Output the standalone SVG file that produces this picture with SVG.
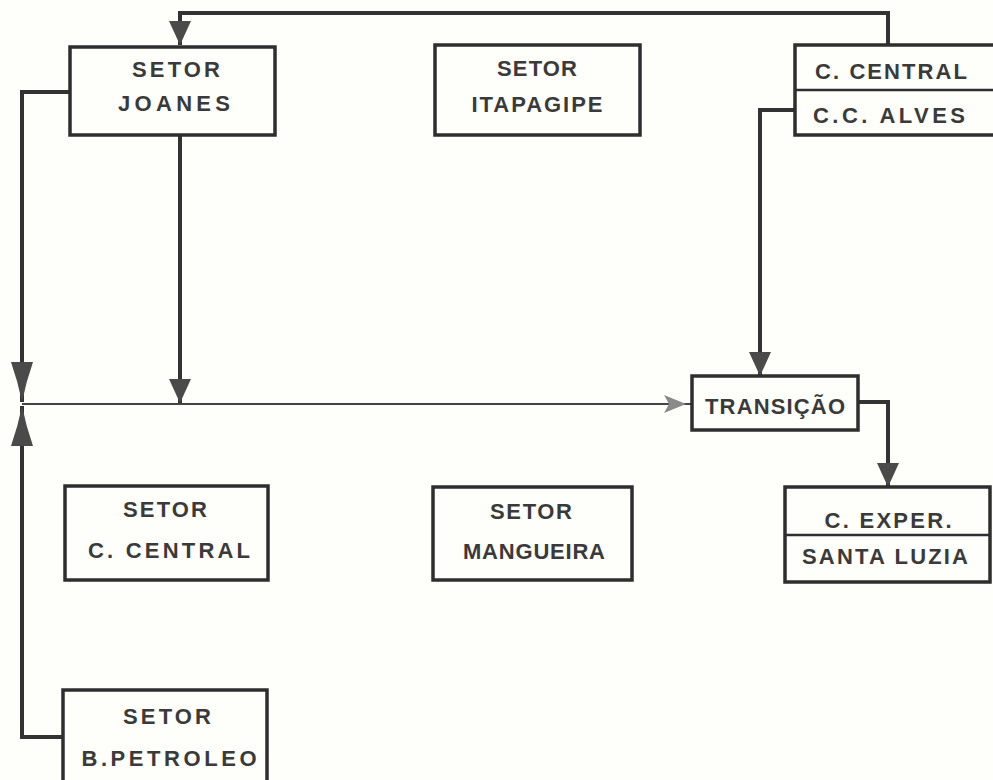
<svg xmlns="http://www.w3.org/2000/svg" width="993" height="780" viewBox="0 0 993 780">
<defs>
<style>
.box{fill:none;stroke:#2e2e2e;stroke-width:3.5}
.div{stroke:#2e2e2e;stroke-width:2.5}
.t{font-family:"Liberation Sans",Arial,sans-serif;font-weight:bold;font-size:22px;fill:#3a3a3a;text-anchor:middle}
.ln{fill:none;stroke:#333;stroke-width:4}
.thin{fill:none;stroke:#444;stroke-width:2}
</style>
<marker id="ah" markerUnits="userSpaceOnUse" markerWidth="24" markerHeight="24" viewBox="0 0 24 24" refX="24" refY="12" orient="auto">
<path d="M0,1 L24,12 L0,23 z" fill="#4a4a4a"/>
</marker>
<marker id="ahl" markerUnits="userSpaceOnUse" markerWidth="40" markerHeight="24" viewBox="0 0 40 24" refX="40" refY="12" orient="auto">
<path d="M0,1 Q20,8 40,12 Q20,16 0,23 z" fill="#4a4a4a"/>
</marker>
<marker id="ahg" markerUnits="userSpaceOnUse" markerWidth="22" markerHeight="20" viewBox="0 0 22 20" refX="22" refY="10" orient="auto">
<path d="M0,1 L22,10 L0,19 L5,10 z" fill="#8a8a8a"/>
</marker>
</defs>
<rect width="993" height="780" fill="#fefefb"/>
<g id="connectors">
<path class="ln" d="M888,45 V13 H180 V45" marker-end="url(#ah)"/>
<path class="ln" d="M70,92 H22 V402" marker-end="url(#ahl)"/>
<path class="ln" d="M63,737 H22 V406" marker-end="url(#ahl)"/>
<path class="ln" d="M180,135 V403" marker-end="url(#ah)"/>
<path class="thin" d="M22,404 H692"/>
<path class="thin" d="M640,404 H686" marker-end="url(#ahg)"/>
<path class="ln" d="M795,110 H760 V376" marker-end="url(#ah)"/>
<path class="ln" d="M858,402 H888 V487" marker-end="url(#ah)"/>
</g>
<g id="setor-joanes">
<rect class="box" x="70" y="47" width="205" height="88"/>
<text class="t" x="176" y="77" textLength="88">SETOR</text>
<text class="t" x="174" y="111" textLength="112">JOANES</text>
</g>
<g id="setor-itapagipe">
<rect class="box" x="435" y="45" width="205" height="90"/>
<text class="t" x="537" y="76" textLength="80">SETOR</text>
<text class="t" x="537" y="112" textLength="131">ITAPAGIPE</text>
</g>
<g id="c-central">
<rect class="box" x="795" y="45" width="200" height="90"/>
<line class="div" x1="795" y1="90" x2="995" y2="90"/>
<text class="t" x="891" y="79" textLength="152">C. CENTRAL</text>
<text class="t" x="889" y="123" textLength="152">C.C. ALVES</text>
</g>
<g id="transicao">
<rect class="box" x="692" y="376" width="166" height="54"/>
<text class="t" x="775" y="414" textLength="140">TRANSIÇÃO</text>
</g>
<g id="setor-c-central">
<rect class="box" x="65" y="486" width="203" height="94"/>
<text class="t" x="165" y="517" textLength="84">SETOR</text>
<text class="t" x="169" y="558" textLength="162">C. CENTRAL</text>
</g>
<g id="setor-mangueira">
<rect class="box" x="433" y="487" width="199" height="93"/>
<text class="t" x="531" y="519" textLength="82">SETOR</text>
<text class="t" x="534" y="559" textLength="142">MANGUEIRA</text>
</g>
<g id="c-exper">
<rect class="box" x="785" y="487" width="205" height="95"/>
<line class="div" x1="785" y1="535" x2="990" y2="535"/>
<text class="t" x="888" y="528" textLength="127">C. EXPER.</text>
<text class="t" x="885" y="564" textLength="166">SANTA LUZIA</text>
</g>
<g id="setor-b-petroleo">
<rect class="box" x="63" y="690" width="204" height="100"/>
<text class="t" x="167" y="724" textLength="88">SETOR</text>
<text class="t" x="169" y="766" textLength="175">B.PETROLEO</text>
</g>
</svg>
